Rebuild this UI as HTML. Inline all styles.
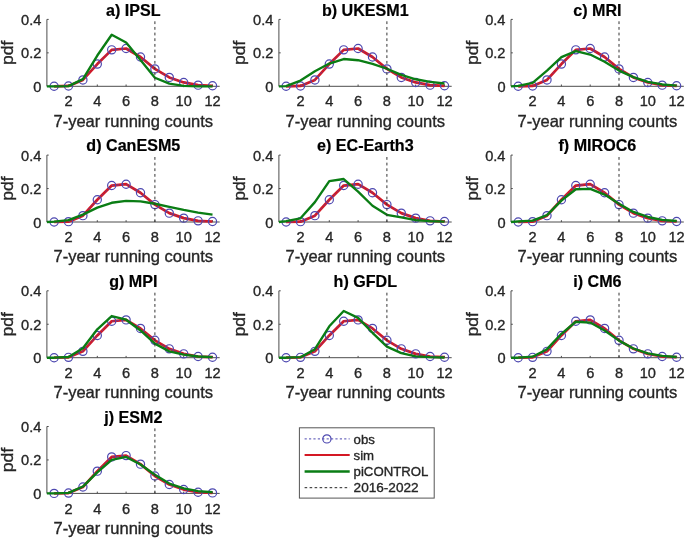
<!DOCTYPE html>
<html><head><meta charset="utf-8"><style>
html,body{margin:0;padding:0;background:#fff;}
svg{display:block;filter:blur(0.4px);}
text{font-family:"Liberation Sans",sans-serif;fill:#262626;stroke:#262626;stroke-width:0.35px;}
.t{font-size:14.6px;}
.l{font-size:16.5px;}
.h{font-size:16.1px;font-weight:bold;fill:#000;stroke:#000;stroke-width:0.2px;}
.g{font-size:13.2px;}
</style></head><body>
<svg width="685" height="541" viewBox="0 0 685 541">
<rect width="685" height="541" fill="#fff"/>
<g><path d="M46.90 19.40V86.30H219.70" fill="none" stroke="#4d4d4d" stroke-width="1"/><path d="M46.90 52.85h1.8M46.90 19.40h1.8M68.50 86.30v-1.8M97.30 86.30v-1.8M126.10 86.30v-1.8M154.90 86.30v-1.8M183.70 86.30v-1.8M212.50 86.30v-1.8" stroke="#4d4d4d" stroke-width="1"/><polyline points="54.10,86.30 68.50,85.97 82.90,79.94 97.30,64.06 111.70,49.84 126.10,48.50 140.50,57.03 154.90,68.91 169.30,77.44 183.70,82.45 198.10,85.13 212.50,85.80" fill="none" stroke="#d41824" stroke-width="2.7" stroke-linejoin="round"/><polyline points="54.10,86.30 68.50,85.97 82.90,79.94 97.30,64.06 111.70,49.84 126.10,48.50 140.50,57.03 154.90,68.91 169.30,77.44 183.70,82.45 198.10,85.13 212.50,85.80" fill="none" stroke="#4d48b0" stroke-width="0.9" stroke-dasharray="2.4 2.4" opacity="0.8"/><circle cx="54.10" cy="86.30" r="4.1" fill="none" stroke="#4d48b0" stroke-width="1.2"/><circle cx="68.50" cy="85.97" r="4.1" fill="none" stroke="#4d48b0" stroke-width="1.2"/><circle cx="82.90" cy="79.94" r="4.1" fill="none" stroke="#4d48b0" stroke-width="1.2"/><circle cx="97.30" cy="64.06" r="4.1" fill="none" stroke="#4d48b0" stroke-width="1.2"/><circle cx="111.70" cy="49.84" r="4.1" fill="none" stroke="#4d48b0" stroke-width="1.2"/><circle cx="126.10" cy="48.50" r="4.1" fill="none" stroke="#4d48b0" stroke-width="1.2"/><circle cx="140.50" cy="57.03" r="4.1" fill="none" stroke="#4d48b0" stroke-width="1.2"/><circle cx="154.90" cy="68.91" r="4.1" fill="none" stroke="#4d48b0" stroke-width="1.2"/><circle cx="169.30" cy="77.44" r="4.1" fill="none" stroke="#4d48b0" stroke-width="1.2"/><circle cx="183.70" cy="82.45" r="4.1" fill="none" stroke="#4d48b0" stroke-width="1.2"/><circle cx="198.10" cy="85.13" r="4.1" fill="none" stroke="#4d48b0" stroke-width="1.2"/><circle cx="212.50" cy="85.80" r="4.1" fill="none" stroke="#4d48b0" stroke-width="1.2"/><polyline points="46.90,86.30 54.10,86.30 68.50,86.13 82.90,79.11 97.30,55.53 111.70,34.79 126.10,42.48 140.50,60.04 154.90,77.77 169.30,83.62 183.70,85.80 198.10,86.30 212.50,86.30" fill="none" stroke="#0a7d14" stroke-width="2.35" stroke-linejoin="round"/><path d="M154.90 21.30V24.10M154.90 26.96V29.76M154.90 32.62V35.42M154.90 38.28V41.08M154.90 43.94V46.74M154.90 49.60V52.40M154.90 55.26V58.06M154.90 60.92V63.72M154.90 66.58V69.38M154.90 72.24V75.04M154.90 77.90V80.70M154.90 83.56V86.30" stroke="#333" stroke-width="1"/><text x="41.40" y="91.80" text-anchor="end" class="t">0</text><text x="41.40" y="58.35" text-anchor="end" class="t">0.2</text><text x="41.40" y="24.90" text-anchor="end" class="t">0.4</text><text x="68.50" y="106.40" text-anchor="middle" class="t">2</text><text x="97.30" y="106.40" text-anchor="middle" class="t">4</text><text x="126.10" y="106.40" text-anchor="middle" class="t">6</text><text x="154.90" y="106.40" text-anchor="middle" class="t">8</text><text x="183.70" y="106.40" text-anchor="middle" class="t">10</text><text x="212.50" y="106.40" text-anchor="middle" class="t">12</text><text x="133.30" y="126.60" text-anchor="middle" class="l">7-year running counts</text><text transform="translate(13.40 52.85) rotate(-90) scale(1.07 1)" text-anchor="middle" class="l">pdf</text><text x="133.30" y="15.50" text-anchor="middle" class="h">a) IPSL</text></g>
<g><path d="M278.90 19.40V86.30H451.70" fill="none" stroke="#4d4d4d" stroke-width="1"/><path d="M278.90 52.85h1.8M278.90 19.40h1.8M300.50 86.30v-1.8M329.30 86.30v-1.8M358.10 86.30v-1.8M386.90 86.30v-1.8M415.70 86.30v-1.8M444.50 86.30v-1.8" stroke="#4d4d4d" stroke-width="1"/><polyline points="286.10,86.30 300.50,85.97 314.90,79.94 329.30,64.06 343.70,49.84 358.10,48.50 372.50,57.03 386.90,68.91 401.30,77.44 415.70,82.45 430.10,85.13 444.50,85.80" fill="none" stroke="#d41824" stroke-width="2.7" stroke-linejoin="round"/><polyline points="286.10,86.30 300.50,85.97 314.90,79.94 329.30,64.06 343.70,49.84 358.10,48.50 372.50,57.03 386.90,68.91 401.30,77.44 415.70,82.45 430.10,85.13 444.50,85.80" fill="none" stroke="#4d48b0" stroke-width="0.9" stroke-dasharray="2.4 2.4" opacity="0.8"/><circle cx="286.10" cy="86.30" r="4.1" fill="none" stroke="#4d48b0" stroke-width="1.2"/><circle cx="300.50" cy="85.97" r="4.1" fill="none" stroke="#4d48b0" stroke-width="1.2"/><circle cx="314.90" cy="79.94" r="4.1" fill="none" stroke="#4d48b0" stroke-width="1.2"/><circle cx="329.30" cy="64.06" r="4.1" fill="none" stroke="#4d48b0" stroke-width="1.2"/><circle cx="343.70" cy="49.84" r="4.1" fill="none" stroke="#4d48b0" stroke-width="1.2"/><circle cx="358.10" cy="48.50" r="4.1" fill="none" stroke="#4d48b0" stroke-width="1.2"/><circle cx="372.50" cy="57.03" r="4.1" fill="none" stroke="#4d48b0" stroke-width="1.2"/><circle cx="386.90" cy="68.91" r="4.1" fill="none" stroke="#4d48b0" stroke-width="1.2"/><circle cx="401.30" cy="77.44" r="4.1" fill="none" stroke="#4d48b0" stroke-width="1.2"/><circle cx="415.70" cy="82.45" r="4.1" fill="none" stroke="#4d48b0" stroke-width="1.2"/><circle cx="430.10" cy="85.13" r="4.1" fill="none" stroke="#4d48b0" stroke-width="1.2"/><circle cx="444.50" cy="85.80" r="4.1" fill="none" stroke="#4d48b0" stroke-width="1.2"/><polyline points="278.90,86.30 286.10,86.13 300.50,80.61 314.90,71.25 329.30,63.55 343.70,59.04 358.10,60.21 372.50,63.89 386.90,68.74 401.30,74.93 415.70,79.28 430.10,81.95 444.50,83.46" fill="none" stroke="#0a7d14" stroke-width="2.35" stroke-linejoin="round"/><path d="M386.90 21.30V24.10M386.90 26.96V29.76M386.90 32.62V35.42M386.90 38.28V41.08M386.90 43.94V46.74M386.90 49.60V52.40M386.90 55.26V58.06M386.90 60.92V63.72M386.90 66.58V69.38M386.90 72.24V75.04M386.90 77.90V80.70M386.90 83.56V86.30" stroke="#333" stroke-width="1"/><text x="273.40" y="91.80" text-anchor="end" class="t">0</text><text x="273.40" y="58.35" text-anchor="end" class="t">0.2</text><text x="273.40" y="24.90" text-anchor="end" class="t">0.4</text><text x="300.50" y="106.40" text-anchor="middle" class="t">2</text><text x="329.30" y="106.40" text-anchor="middle" class="t">4</text><text x="358.10" y="106.40" text-anchor="middle" class="t">6</text><text x="386.90" y="106.40" text-anchor="middle" class="t">8</text><text x="415.70" y="106.40" text-anchor="middle" class="t">10</text><text x="444.50" y="106.40" text-anchor="middle" class="t">12</text><text x="365.30" y="126.60" text-anchor="middle" class="l">7-year running counts</text><text transform="translate(245.40 52.85) rotate(-90) scale(1.07 1)" text-anchor="middle" class="l">pdf</text><text x="365.30" y="15.50" text-anchor="middle" class="h">b) UKESM1</text></g>
<g><path d="M511.00 19.40V86.30H683.80" fill="none" stroke="#4d4d4d" stroke-width="1"/><path d="M511.00 52.85h1.8M511.00 19.40h1.8M532.60 86.30v-1.8M561.40 86.30v-1.8M590.20 86.30v-1.8M619.00 86.30v-1.8M647.80 86.30v-1.8M676.60 86.30v-1.8" stroke="#4d4d4d" stroke-width="1"/><polyline points="518.20,86.30 532.60,85.97 547.00,79.94 561.40,64.06 575.80,49.84 590.20,48.50 604.60,57.03 619.00,68.91 633.40,77.44 647.80,82.45 662.20,85.13 676.60,85.80" fill="none" stroke="#d41824" stroke-width="2.7" stroke-linejoin="round"/><polyline points="518.20,86.30 532.60,85.97 547.00,79.94 561.40,64.06 575.80,49.84 590.20,48.50 604.60,57.03 619.00,68.91 633.40,77.44 647.80,82.45 662.20,85.13 676.60,85.80" fill="none" stroke="#4d48b0" stroke-width="0.9" stroke-dasharray="2.4 2.4" opacity="0.8"/><circle cx="518.20" cy="86.30" r="4.1" fill="none" stroke="#4d48b0" stroke-width="1.2"/><circle cx="532.60" cy="85.97" r="4.1" fill="none" stroke="#4d48b0" stroke-width="1.2"/><circle cx="547.00" cy="79.94" r="4.1" fill="none" stroke="#4d48b0" stroke-width="1.2"/><circle cx="561.40" cy="64.06" r="4.1" fill="none" stroke="#4d48b0" stroke-width="1.2"/><circle cx="575.80" cy="49.84" r="4.1" fill="none" stroke="#4d48b0" stroke-width="1.2"/><circle cx="590.20" cy="48.50" r="4.1" fill="none" stroke="#4d48b0" stroke-width="1.2"/><circle cx="604.60" cy="57.03" r="4.1" fill="none" stroke="#4d48b0" stroke-width="1.2"/><circle cx="619.00" cy="68.91" r="4.1" fill="none" stroke="#4d48b0" stroke-width="1.2"/><circle cx="633.40" cy="77.44" r="4.1" fill="none" stroke="#4d48b0" stroke-width="1.2"/><circle cx="647.80" cy="82.45" r="4.1" fill="none" stroke="#4d48b0" stroke-width="1.2"/><circle cx="662.20" cy="85.13" r="4.1" fill="none" stroke="#4d48b0" stroke-width="1.2"/><circle cx="676.60" cy="85.80" r="4.1" fill="none" stroke="#4d48b0" stroke-width="1.2"/><polyline points="511.00,86.30 518.20,85.80 532.60,82.79 547.00,70.58 561.40,57.20 575.80,51.18 590.20,54.52 604.60,61.71 619.00,70.58 633.40,77.10 647.80,81.95 662.20,84.46 676.60,85.63" fill="none" stroke="#0a7d14" stroke-width="2.35" stroke-linejoin="round"/><path d="M619.00 21.30V24.10M619.00 26.96V29.76M619.00 32.62V35.42M619.00 38.28V41.08M619.00 43.94V46.74M619.00 49.60V52.40M619.00 55.26V58.06M619.00 60.92V63.72M619.00 66.58V69.38M619.00 72.24V75.04M619.00 77.90V80.70M619.00 83.56V86.30" stroke="#333" stroke-width="1"/><text x="505.50" y="91.80" text-anchor="end" class="t">0</text><text x="505.50" y="58.35" text-anchor="end" class="t">0.2</text><text x="505.50" y="24.90" text-anchor="end" class="t">0.4</text><text x="532.60" y="106.40" text-anchor="middle" class="t">2</text><text x="561.40" y="106.40" text-anchor="middle" class="t">4</text><text x="590.20" y="106.40" text-anchor="middle" class="t">6</text><text x="619.00" y="106.40" text-anchor="middle" class="t">8</text><text x="647.80" y="106.40" text-anchor="middle" class="t">10</text><text x="676.60" y="106.40" text-anchor="middle" class="t">12</text><text x="597.40" y="126.60" text-anchor="middle" class="l">7-year running counts</text><text transform="translate(477.50 52.85) rotate(-90) scale(1.07 1)" text-anchor="middle" class="l">pdf</text><text x="597.40" y="15.50" text-anchor="middle" class="h">c) MRI</text></g>
<g><path d="M46.90 155.10V222.00H219.70" fill="none" stroke="#4d4d4d" stroke-width="1"/><path d="M46.90 188.55h1.8M46.90 155.10h1.8M68.50 222.00v-1.8M97.30 222.00v-1.8M126.10 222.00v-1.8M154.90 222.00v-1.8M183.70 222.00v-1.8M212.50 222.00v-1.8" stroke="#4d4d4d" stroke-width="1"/><polyline points="54.10,222.00 68.50,221.67 82.90,215.64 97.30,199.76 111.70,185.54 126.10,184.20 140.50,192.73 154.90,204.61 169.30,213.14 183.70,218.15 198.10,220.83 212.50,221.50" fill="none" stroke="#d41824" stroke-width="2.7" stroke-linejoin="round"/><polyline points="54.10,222.00 68.50,221.67 82.90,215.64 97.30,199.76 111.70,185.54 126.10,184.20 140.50,192.73 154.90,204.61 169.30,213.14 183.70,218.15 198.10,220.83 212.50,221.50" fill="none" stroke="#4d48b0" stroke-width="0.9" stroke-dasharray="2.4 2.4" opacity="0.8"/><circle cx="54.10" cy="222.00" r="4.1" fill="none" stroke="#4d48b0" stroke-width="1.2"/><circle cx="68.50" cy="221.67" r="4.1" fill="none" stroke="#4d48b0" stroke-width="1.2"/><circle cx="82.90" cy="215.64" r="4.1" fill="none" stroke="#4d48b0" stroke-width="1.2"/><circle cx="97.30" cy="199.76" r="4.1" fill="none" stroke="#4d48b0" stroke-width="1.2"/><circle cx="111.70" cy="185.54" r="4.1" fill="none" stroke="#4d48b0" stroke-width="1.2"/><circle cx="126.10" cy="184.20" r="4.1" fill="none" stroke="#4d48b0" stroke-width="1.2"/><circle cx="140.50" cy="192.73" r="4.1" fill="none" stroke="#4d48b0" stroke-width="1.2"/><circle cx="154.90" cy="204.61" r="4.1" fill="none" stroke="#4d48b0" stroke-width="1.2"/><circle cx="169.30" cy="213.14" r="4.1" fill="none" stroke="#4d48b0" stroke-width="1.2"/><circle cx="183.70" cy="218.15" r="4.1" fill="none" stroke="#4d48b0" stroke-width="1.2"/><circle cx="198.10" cy="220.83" r="4.1" fill="none" stroke="#4d48b0" stroke-width="1.2"/><circle cx="212.50" cy="221.50" r="4.1" fill="none" stroke="#4d48b0" stroke-width="1.2"/><polyline points="46.90,222.00 54.10,221.67 68.50,220.16 82.90,214.64 97.30,207.62 111.70,202.77 126.10,200.93 140.50,201.43 154.90,203.77 169.30,206.95 183.70,209.96 198.10,212.63 212.50,214.64" fill="none" stroke="#0a7d14" stroke-width="2.35" stroke-linejoin="round"/><path d="M154.90 157.00V159.80M154.90 162.66V165.46M154.90 168.32V171.12M154.90 173.98V176.78M154.90 179.64V182.44M154.90 185.30V188.10M154.90 190.96V193.76M154.90 196.62V199.42M154.90 202.28V205.08M154.90 207.94V210.74M154.90 213.60V216.40M154.90 219.26V222.00" stroke="#333" stroke-width="1"/><text x="41.40" y="227.50" text-anchor="end" class="t">0</text><text x="41.40" y="194.05" text-anchor="end" class="t">0.2</text><text x="41.40" y="160.60" text-anchor="end" class="t">0.4</text><text x="68.50" y="242.10" text-anchor="middle" class="t">2</text><text x="97.30" y="242.10" text-anchor="middle" class="t">4</text><text x="126.10" y="242.10" text-anchor="middle" class="t">6</text><text x="154.90" y="242.10" text-anchor="middle" class="t">8</text><text x="183.70" y="242.10" text-anchor="middle" class="t">10</text><text x="212.50" y="242.10" text-anchor="middle" class="t">12</text><text x="133.30" y="262.30" text-anchor="middle" class="l">7-year running counts</text><text transform="translate(13.40 188.55) rotate(-90) scale(1.07 1)" text-anchor="middle" class="l">pdf</text><text x="133.30" y="151.20" text-anchor="middle" class="h">d) CanESM5</text></g>
<g><path d="M278.90 155.10V222.00H451.70" fill="none" stroke="#4d4d4d" stroke-width="1"/><path d="M278.90 188.55h1.8M278.90 155.10h1.8M300.50 222.00v-1.8M329.30 222.00v-1.8M358.10 222.00v-1.8M386.90 222.00v-1.8M415.70 222.00v-1.8M444.50 222.00v-1.8" stroke="#4d4d4d" stroke-width="1"/><polyline points="286.10,222.00 300.50,221.67 314.90,215.64 329.30,199.76 343.70,185.54 358.10,184.20 372.50,192.73 386.90,204.61 401.30,213.14 415.70,218.15 430.10,220.83 444.50,221.50" fill="none" stroke="#d41824" stroke-width="2.7" stroke-linejoin="round"/><polyline points="286.10,222.00 300.50,221.67 314.90,215.64 329.30,199.76 343.70,185.54 358.10,184.20 372.50,192.73 386.90,204.61 401.30,213.14 415.70,218.15 430.10,220.83 444.50,221.50" fill="none" stroke="#4d48b0" stroke-width="0.9" stroke-dasharray="2.4 2.4" opacity="0.8"/><circle cx="286.10" cy="222.00" r="4.1" fill="none" stroke="#4d48b0" stroke-width="1.2"/><circle cx="300.50" cy="221.67" r="4.1" fill="none" stroke="#4d48b0" stroke-width="1.2"/><circle cx="314.90" cy="215.64" r="4.1" fill="none" stroke="#4d48b0" stroke-width="1.2"/><circle cx="329.30" cy="199.76" r="4.1" fill="none" stroke="#4d48b0" stroke-width="1.2"/><circle cx="343.70" cy="185.54" r="4.1" fill="none" stroke="#4d48b0" stroke-width="1.2"/><circle cx="358.10" cy="184.20" r="4.1" fill="none" stroke="#4d48b0" stroke-width="1.2"/><circle cx="372.50" cy="192.73" r="4.1" fill="none" stroke="#4d48b0" stroke-width="1.2"/><circle cx="386.90" cy="204.61" r="4.1" fill="none" stroke="#4d48b0" stroke-width="1.2"/><circle cx="401.30" cy="213.14" r="4.1" fill="none" stroke="#4d48b0" stroke-width="1.2"/><circle cx="415.70" cy="218.15" r="4.1" fill="none" stroke="#4d48b0" stroke-width="1.2"/><circle cx="430.10" cy="220.83" r="4.1" fill="none" stroke="#4d48b0" stroke-width="1.2"/><circle cx="444.50" cy="221.50" r="4.1" fill="none" stroke="#4d48b0" stroke-width="1.2"/><polyline points="278.90,222.00 286.10,221.16 300.50,218.32 314.90,202.10 329.30,181.19 343.70,179.02 358.10,191.56 372.50,205.78 386.90,214.81 401.30,217.32 415.70,220.16 430.10,221.16 444.50,221.67" fill="none" stroke="#0a7d14" stroke-width="2.35" stroke-linejoin="round"/><path d="M386.90 157.00V159.80M386.90 162.66V165.46M386.90 168.32V171.12M386.90 173.98V176.78M386.90 179.64V182.44M386.90 185.30V188.10M386.90 190.96V193.76M386.90 196.62V199.42M386.90 202.28V205.08M386.90 207.94V210.74M386.90 213.60V216.40M386.90 219.26V222.00" stroke="#333" stroke-width="1"/><text x="273.40" y="227.50" text-anchor="end" class="t">0</text><text x="273.40" y="194.05" text-anchor="end" class="t">0.2</text><text x="273.40" y="160.60" text-anchor="end" class="t">0.4</text><text x="300.50" y="242.10" text-anchor="middle" class="t">2</text><text x="329.30" y="242.10" text-anchor="middle" class="t">4</text><text x="358.10" y="242.10" text-anchor="middle" class="t">6</text><text x="386.90" y="242.10" text-anchor="middle" class="t">8</text><text x="415.70" y="242.10" text-anchor="middle" class="t">10</text><text x="444.50" y="242.10" text-anchor="middle" class="t">12</text><text x="365.30" y="262.30" text-anchor="middle" class="l">7-year running counts</text><text transform="translate(245.40 188.55) rotate(-90) scale(1.07 1)" text-anchor="middle" class="l">pdf</text><text x="365.30" y="151.20" text-anchor="middle" class="h">e) EC-Earth3</text></g>
<g><path d="M511.00 155.10V222.00H683.80" fill="none" stroke="#4d4d4d" stroke-width="1"/><path d="M511.00 188.55h1.8M511.00 155.10h1.8M532.60 222.00v-1.8M561.40 222.00v-1.8M590.20 222.00v-1.8M619.00 222.00v-1.8M647.80 222.00v-1.8M676.60 222.00v-1.8" stroke="#4d4d4d" stroke-width="1"/><polyline points="518.20,222.00 532.60,221.67 547.00,215.64 561.40,199.76 575.80,185.54 590.20,184.20 604.60,192.73 619.00,204.61 633.40,213.14 647.80,218.15 662.20,220.83 676.60,221.50" fill="none" stroke="#d41824" stroke-width="2.7" stroke-linejoin="round"/><polyline points="518.20,222.00 532.60,221.67 547.00,215.64 561.40,199.76 575.80,185.54 590.20,184.20 604.60,192.73 619.00,204.61 633.40,213.14 647.80,218.15 662.20,220.83 676.60,221.50" fill="none" stroke="#4d48b0" stroke-width="0.9" stroke-dasharray="2.4 2.4" opacity="0.8"/><circle cx="518.20" cy="222.00" r="4.1" fill="none" stroke="#4d48b0" stroke-width="1.2"/><circle cx="532.60" cy="221.67" r="4.1" fill="none" stroke="#4d48b0" stroke-width="1.2"/><circle cx="547.00" cy="215.64" r="4.1" fill="none" stroke="#4d48b0" stroke-width="1.2"/><circle cx="561.40" cy="199.76" r="4.1" fill="none" stroke="#4d48b0" stroke-width="1.2"/><circle cx="575.80" cy="185.54" r="4.1" fill="none" stroke="#4d48b0" stroke-width="1.2"/><circle cx="590.20" cy="184.20" r="4.1" fill="none" stroke="#4d48b0" stroke-width="1.2"/><circle cx="604.60" cy="192.73" r="4.1" fill="none" stroke="#4d48b0" stroke-width="1.2"/><circle cx="619.00" cy="204.61" r="4.1" fill="none" stroke="#4d48b0" stroke-width="1.2"/><circle cx="633.40" cy="213.14" r="4.1" fill="none" stroke="#4d48b0" stroke-width="1.2"/><circle cx="647.80" cy="218.15" r="4.1" fill="none" stroke="#4d48b0" stroke-width="1.2"/><circle cx="662.20" cy="220.83" r="4.1" fill="none" stroke="#4d48b0" stroke-width="1.2"/><circle cx="676.60" cy="221.50" r="4.1" fill="none" stroke="#4d48b0" stroke-width="1.2"/><polyline points="511.00,222.00 518.20,221.33 532.60,220.66 547.00,215.14 561.40,200.59 575.80,189.22 590.20,188.88 604.60,194.57 619.00,203.77 633.40,211.97 647.80,216.98 662.20,219.83 676.60,221.00" fill="none" stroke="#0a7d14" stroke-width="2.35" stroke-linejoin="round"/><path d="M619.00 157.00V159.80M619.00 162.66V165.46M619.00 168.32V171.12M619.00 173.98V176.78M619.00 179.64V182.44M619.00 185.30V188.10M619.00 190.96V193.76M619.00 196.62V199.42M619.00 202.28V205.08M619.00 207.94V210.74M619.00 213.60V216.40M619.00 219.26V222.00" stroke="#333" stroke-width="1"/><text x="505.50" y="227.50" text-anchor="end" class="t">0</text><text x="505.50" y="194.05" text-anchor="end" class="t">0.2</text><text x="505.50" y="160.60" text-anchor="end" class="t">0.4</text><text x="532.60" y="242.10" text-anchor="middle" class="t">2</text><text x="561.40" y="242.10" text-anchor="middle" class="t">4</text><text x="590.20" y="242.10" text-anchor="middle" class="t">6</text><text x="619.00" y="242.10" text-anchor="middle" class="t">8</text><text x="647.80" y="242.10" text-anchor="middle" class="t">10</text><text x="676.60" y="242.10" text-anchor="middle" class="t">12</text><text x="597.40" y="262.30" text-anchor="middle" class="l">7-year running counts</text><text transform="translate(477.50 188.55) rotate(-90) scale(1.07 1)" text-anchor="middle" class="l">pdf</text><text x="597.40" y="151.20" text-anchor="middle" class="h">f) MIROC6</text></g>
<g><path d="M46.90 290.80V357.70H219.70" fill="none" stroke="#4d4d4d" stroke-width="1"/><path d="M46.90 324.25h1.8M46.90 290.80h1.8M68.50 357.70v-1.8M97.30 357.70v-1.8M126.10 357.70v-1.8M154.90 357.70v-1.8M183.70 357.70v-1.8M212.50 357.70v-1.8" stroke="#4d4d4d" stroke-width="1"/><polyline points="54.10,357.70 68.50,357.37 82.90,351.34 97.30,335.46 111.70,321.24 126.10,319.90 140.50,328.43 154.90,340.31 169.30,348.84 183.70,353.85 198.10,356.53 212.50,357.20" fill="none" stroke="#d41824" stroke-width="2.7" stroke-linejoin="round"/><polyline points="54.10,357.70 68.50,357.37 82.90,351.34 97.30,335.46 111.70,321.24 126.10,319.90 140.50,328.43 154.90,340.31 169.30,348.84 183.70,353.85 198.10,356.53 212.50,357.20" fill="none" stroke="#4d48b0" stroke-width="0.9" stroke-dasharray="2.4 2.4" opacity="0.8"/><circle cx="54.10" cy="357.70" r="4.1" fill="none" stroke="#4d48b0" stroke-width="1.2"/><circle cx="68.50" cy="357.37" r="4.1" fill="none" stroke="#4d48b0" stroke-width="1.2"/><circle cx="82.90" cy="351.34" r="4.1" fill="none" stroke="#4d48b0" stroke-width="1.2"/><circle cx="97.30" cy="335.46" r="4.1" fill="none" stroke="#4d48b0" stroke-width="1.2"/><circle cx="111.70" cy="321.24" r="4.1" fill="none" stroke="#4d48b0" stroke-width="1.2"/><circle cx="126.10" cy="319.90" r="4.1" fill="none" stroke="#4d48b0" stroke-width="1.2"/><circle cx="140.50" cy="328.43" r="4.1" fill="none" stroke="#4d48b0" stroke-width="1.2"/><circle cx="154.90" cy="340.31" r="4.1" fill="none" stroke="#4d48b0" stroke-width="1.2"/><circle cx="169.30" cy="348.84" r="4.1" fill="none" stroke="#4d48b0" stroke-width="1.2"/><circle cx="183.70" cy="353.85" r="4.1" fill="none" stroke="#4d48b0" stroke-width="1.2"/><circle cx="198.10" cy="356.53" r="4.1" fill="none" stroke="#4d48b0" stroke-width="1.2"/><circle cx="212.50" cy="357.20" r="4.1" fill="none" stroke="#4d48b0" stroke-width="1.2"/><polyline points="46.90,357.70 54.10,357.70 68.50,357.03 82.90,348.17 97.30,329.27 111.70,316.05 126.10,319.73 140.50,330.44 154.90,343.65 169.30,351.34 183.70,354.69 198.10,356.53 212.50,357.20" fill="none" stroke="#0a7d14" stroke-width="2.35" stroke-linejoin="round"/><path d="M154.90 292.70V295.50M154.90 298.36V301.16M154.90 304.02V306.82M154.90 309.68V312.48M154.90 315.34V318.14M154.90 321.00V323.80M154.90 326.66V329.46M154.90 332.32V335.12M154.90 337.98V340.78M154.90 343.64V346.44M154.90 349.30V352.10M154.90 354.96V357.70" stroke="#333" stroke-width="1"/><text x="41.40" y="363.20" text-anchor="end" class="t">0</text><text x="41.40" y="329.75" text-anchor="end" class="t">0.2</text><text x="41.40" y="296.30" text-anchor="end" class="t">0.4</text><text x="68.50" y="377.80" text-anchor="middle" class="t">2</text><text x="97.30" y="377.80" text-anchor="middle" class="t">4</text><text x="126.10" y="377.80" text-anchor="middle" class="t">6</text><text x="154.90" y="377.80" text-anchor="middle" class="t">8</text><text x="183.70" y="377.80" text-anchor="middle" class="t">10</text><text x="212.50" y="377.80" text-anchor="middle" class="t">12</text><text x="133.30" y="398.00" text-anchor="middle" class="l">7-year running counts</text><text transform="translate(13.40 324.25) rotate(-90) scale(1.07 1)" text-anchor="middle" class="l">pdf</text><text x="133.30" y="286.90" text-anchor="middle" class="h">g) MPI</text></g>
<g><path d="M278.90 290.80V357.70H451.70" fill="none" stroke="#4d4d4d" stroke-width="1"/><path d="M278.90 324.25h1.8M278.90 290.80h1.8M300.50 357.70v-1.8M329.30 357.70v-1.8M358.10 357.70v-1.8M386.90 357.70v-1.8M415.70 357.70v-1.8M444.50 357.70v-1.8" stroke="#4d4d4d" stroke-width="1"/><polyline points="286.10,357.70 300.50,357.37 314.90,351.34 329.30,335.46 343.70,321.24 358.10,319.90 372.50,328.43 386.90,340.31 401.30,348.84 415.70,353.85 430.10,356.53 444.50,357.20" fill="none" stroke="#d41824" stroke-width="2.7" stroke-linejoin="round"/><polyline points="286.10,357.70 300.50,357.37 314.90,351.34 329.30,335.46 343.70,321.24 358.10,319.90 372.50,328.43 386.90,340.31 401.30,348.84 415.70,353.85 430.10,356.53 444.50,357.20" fill="none" stroke="#4d48b0" stroke-width="0.9" stroke-dasharray="2.4 2.4" opacity="0.8"/><circle cx="286.10" cy="357.70" r="4.1" fill="none" stroke="#4d48b0" stroke-width="1.2"/><circle cx="300.50" cy="357.37" r="4.1" fill="none" stroke="#4d48b0" stroke-width="1.2"/><circle cx="314.90" cy="351.34" r="4.1" fill="none" stroke="#4d48b0" stroke-width="1.2"/><circle cx="329.30" cy="335.46" r="4.1" fill="none" stroke="#4d48b0" stroke-width="1.2"/><circle cx="343.70" cy="321.24" r="4.1" fill="none" stroke="#4d48b0" stroke-width="1.2"/><circle cx="358.10" cy="319.90" r="4.1" fill="none" stroke="#4d48b0" stroke-width="1.2"/><circle cx="372.50" cy="328.43" r="4.1" fill="none" stroke="#4d48b0" stroke-width="1.2"/><circle cx="386.90" cy="340.31" r="4.1" fill="none" stroke="#4d48b0" stroke-width="1.2"/><circle cx="401.30" cy="348.84" r="4.1" fill="none" stroke="#4d48b0" stroke-width="1.2"/><circle cx="415.70" cy="353.85" r="4.1" fill="none" stroke="#4d48b0" stroke-width="1.2"/><circle cx="430.10" cy="356.53" r="4.1" fill="none" stroke="#4d48b0" stroke-width="1.2"/><circle cx="444.50" cy="357.20" r="4.1" fill="none" stroke="#4d48b0" stroke-width="1.2"/><polyline points="278.90,357.70 286.10,357.70 300.50,357.20 314.90,349.17 329.30,326.26 343.70,311.04 358.10,317.89 372.50,332.78 386.90,346.66 401.30,353.18 415.70,356.36 430.10,357.20 444.50,357.53" fill="none" stroke="#0a7d14" stroke-width="2.35" stroke-linejoin="round"/><path d="M386.90 292.70V295.50M386.90 298.36V301.16M386.90 304.02V306.82M386.90 309.68V312.48M386.90 315.34V318.14M386.90 321.00V323.80M386.90 326.66V329.46M386.90 332.32V335.12M386.90 337.98V340.78M386.90 343.64V346.44M386.90 349.30V352.10M386.90 354.96V357.70" stroke="#333" stroke-width="1"/><text x="273.40" y="363.20" text-anchor="end" class="t">0</text><text x="273.40" y="329.75" text-anchor="end" class="t">0.2</text><text x="273.40" y="296.30" text-anchor="end" class="t">0.4</text><text x="300.50" y="377.80" text-anchor="middle" class="t">2</text><text x="329.30" y="377.80" text-anchor="middle" class="t">4</text><text x="358.10" y="377.80" text-anchor="middle" class="t">6</text><text x="386.90" y="377.80" text-anchor="middle" class="t">8</text><text x="415.70" y="377.80" text-anchor="middle" class="t">10</text><text x="444.50" y="377.80" text-anchor="middle" class="t">12</text><text x="365.30" y="398.00" text-anchor="middle" class="l">7-year running counts</text><text transform="translate(245.40 324.25) rotate(-90) scale(1.07 1)" text-anchor="middle" class="l">pdf</text><text x="365.30" y="286.90" text-anchor="middle" class="h">h) GFDL</text></g>
<g><path d="M511.00 290.80V357.70H683.80" fill="none" stroke="#4d4d4d" stroke-width="1"/><path d="M511.00 324.25h1.8M511.00 290.80h1.8M532.60 357.70v-1.8M561.40 357.70v-1.8M590.20 357.70v-1.8M619.00 357.70v-1.8M647.80 357.70v-1.8M676.60 357.70v-1.8" stroke="#4d4d4d" stroke-width="1"/><polyline points="518.20,357.70 532.60,357.37 547.00,351.34 561.40,335.46 575.80,321.24 590.20,319.90 604.60,328.43 619.00,340.31 633.40,348.84 647.80,353.85 662.20,356.53 676.60,357.20" fill="none" stroke="#d41824" stroke-width="2.7" stroke-linejoin="round"/><polyline points="518.20,357.70 532.60,357.37 547.00,351.34 561.40,335.46 575.80,321.24 590.20,319.90 604.60,328.43 619.00,340.31 633.40,348.84 647.80,353.85 662.20,356.53 676.60,357.20" fill="none" stroke="#4d48b0" stroke-width="0.9" stroke-dasharray="2.4 2.4" opacity="0.8"/><circle cx="518.20" cy="357.70" r="4.1" fill="none" stroke="#4d48b0" stroke-width="1.2"/><circle cx="532.60" cy="357.37" r="4.1" fill="none" stroke="#4d48b0" stroke-width="1.2"/><circle cx="547.00" cy="351.34" r="4.1" fill="none" stroke="#4d48b0" stroke-width="1.2"/><circle cx="561.40" cy="335.46" r="4.1" fill="none" stroke="#4d48b0" stroke-width="1.2"/><circle cx="575.80" cy="321.24" r="4.1" fill="none" stroke="#4d48b0" stroke-width="1.2"/><circle cx="590.20" cy="319.90" r="4.1" fill="none" stroke="#4d48b0" stroke-width="1.2"/><circle cx="604.60" cy="328.43" r="4.1" fill="none" stroke="#4d48b0" stroke-width="1.2"/><circle cx="619.00" cy="340.31" r="4.1" fill="none" stroke="#4d48b0" stroke-width="1.2"/><circle cx="633.40" cy="348.84" r="4.1" fill="none" stroke="#4d48b0" stroke-width="1.2"/><circle cx="647.80" cy="353.85" r="4.1" fill="none" stroke="#4d48b0" stroke-width="1.2"/><circle cx="662.20" cy="356.53" r="4.1" fill="none" stroke="#4d48b0" stroke-width="1.2"/><circle cx="676.60" cy="357.20" r="4.1" fill="none" stroke="#4d48b0" stroke-width="1.2"/><polyline points="511.00,357.70 518.20,357.70 532.60,356.70 547.00,349.17 561.40,333.78 575.80,321.74 590.20,322.58 604.60,330.44 619.00,340.64 633.40,348.50 647.80,353.35 662.20,355.86 676.60,357.03" fill="none" stroke="#0a7d14" stroke-width="2.35" stroke-linejoin="round"/><path d="M619.00 292.70V295.50M619.00 298.36V301.16M619.00 304.02V306.82M619.00 309.68V312.48M619.00 315.34V318.14M619.00 321.00V323.80M619.00 326.66V329.46M619.00 332.32V335.12M619.00 337.98V340.78M619.00 343.64V346.44M619.00 349.30V352.10M619.00 354.96V357.70" stroke="#333" stroke-width="1"/><text x="505.50" y="363.20" text-anchor="end" class="t">0</text><text x="505.50" y="329.75" text-anchor="end" class="t">0.2</text><text x="505.50" y="296.30" text-anchor="end" class="t">0.4</text><text x="532.60" y="377.80" text-anchor="middle" class="t">2</text><text x="561.40" y="377.80" text-anchor="middle" class="t">4</text><text x="590.20" y="377.80" text-anchor="middle" class="t">6</text><text x="619.00" y="377.80" text-anchor="middle" class="t">8</text><text x="647.80" y="377.80" text-anchor="middle" class="t">10</text><text x="676.60" y="377.80" text-anchor="middle" class="t">12</text><text x="597.40" y="398.00" text-anchor="middle" class="l">7-year running counts</text><text transform="translate(477.50 324.25) rotate(-90) scale(1.07 1)" text-anchor="middle" class="l">pdf</text><text x="597.40" y="286.90" text-anchor="middle" class="h">i) CM6</text></g>
<g><path d="M46.90 426.50V493.40H219.70" fill="none" stroke="#4d4d4d" stroke-width="1"/><path d="M46.90 459.95h1.8M46.90 426.50h1.8M68.50 493.40v-1.8M97.30 493.40v-1.8M126.10 493.40v-1.8M154.90 493.40v-1.8M183.70 493.40v-1.8M212.50 493.40v-1.8" stroke="#4d4d4d" stroke-width="1"/><polyline points="54.10,493.40 68.50,493.07 82.90,487.04 97.30,471.16 111.70,456.94 126.10,455.60 140.50,464.13 154.90,476.01 169.30,484.54 183.70,489.55 198.10,492.23 212.50,492.90" fill="none" stroke="#d41824" stroke-width="2.7" stroke-linejoin="round"/><polyline points="54.10,493.40 68.50,493.07 82.90,487.04 97.30,471.16 111.70,456.94 126.10,455.60 140.50,464.13 154.90,476.01 169.30,484.54 183.70,489.55 198.10,492.23 212.50,492.90" fill="none" stroke="#4d48b0" stroke-width="0.9" stroke-dasharray="2.4 2.4" opacity="0.8"/><circle cx="54.10" cy="493.40" r="4.1" fill="none" stroke="#4d48b0" stroke-width="1.2"/><circle cx="68.50" cy="493.07" r="4.1" fill="none" stroke="#4d48b0" stroke-width="1.2"/><circle cx="82.90" cy="487.04" r="4.1" fill="none" stroke="#4d48b0" stroke-width="1.2"/><circle cx="97.30" cy="471.16" r="4.1" fill="none" stroke="#4d48b0" stroke-width="1.2"/><circle cx="111.70" cy="456.94" r="4.1" fill="none" stroke="#4d48b0" stroke-width="1.2"/><circle cx="126.10" cy="455.60" r="4.1" fill="none" stroke="#4d48b0" stroke-width="1.2"/><circle cx="140.50" cy="464.13" r="4.1" fill="none" stroke="#4d48b0" stroke-width="1.2"/><circle cx="154.90" cy="476.01" r="4.1" fill="none" stroke="#4d48b0" stroke-width="1.2"/><circle cx="169.30" cy="484.54" r="4.1" fill="none" stroke="#4d48b0" stroke-width="1.2"/><circle cx="183.70" cy="489.55" r="4.1" fill="none" stroke="#4d48b0" stroke-width="1.2"/><circle cx="198.10" cy="492.23" r="4.1" fill="none" stroke="#4d48b0" stroke-width="1.2"/><circle cx="212.50" cy="492.90" r="4.1" fill="none" stroke="#4d48b0" stroke-width="1.2"/><polyline points="46.90,493.40 54.10,493.40 68.50,492.90 82.90,486.54 97.30,472.33 111.70,459.78 126.10,456.94 140.50,464.47 154.90,474.67 169.30,483.53 183.70,488.38 198.10,491.06 212.50,492.23" fill="none" stroke="#0a7d14" stroke-width="2.35" stroke-linejoin="round"/><path d="M154.90 428.40V431.20M154.90 434.06V436.86M154.90 439.72V442.52M154.90 445.38V448.18M154.90 451.04V453.84M154.90 456.70V459.50M154.90 462.36V465.16M154.90 468.02V470.82M154.90 473.68V476.48M154.90 479.34V482.14M154.90 485.00V487.80M154.90 490.66V493.40" stroke="#333" stroke-width="1"/><text x="41.40" y="498.90" text-anchor="end" class="t">0</text><text x="41.40" y="465.45" text-anchor="end" class="t">0.2</text><text x="41.40" y="432.00" text-anchor="end" class="t">0.4</text><text x="68.50" y="513.50" text-anchor="middle" class="t">2</text><text x="97.30" y="513.50" text-anchor="middle" class="t">4</text><text x="126.10" y="513.50" text-anchor="middle" class="t">6</text><text x="154.90" y="513.50" text-anchor="middle" class="t">8</text><text x="183.70" y="513.50" text-anchor="middle" class="t">10</text><text x="212.50" y="513.50" text-anchor="middle" class="t">12</text><text x="133.30" y="533.70" text-anchor="middle" class="l">7-year running counts</text><text transform="translate(13.40 459.95) rotate(-90) scale(1.07 1)" text-anchor="middle" class="l">pdf</text><text x="133.30" y="422.60" text-anchor="middle" class="h">j) ESM2</text></g>
<g><rect x="299.4" y="427.8" width="134.8" height="70.3" fill="#fff" stroke="#555" stroke-width="1"/><path d="M304.6 438.9H349.7" stroke="#4d48b0" stroke-width="1" stroke-dasharray="2.2 2.2"/><circle cx="326.9" cy="438.9" r="4.1" fill="none" stroke="#4d48b0" stroke-width="1.2"/><path d="M304.6 455.0H349.7" stroke="#d41824" stroke-width="2.2"/><path d="M304.6 471.5H349.7" stroke="#0a7d14" stroke-width="2.4"/><path d="M304.6 487.7H349.7" stroke="#222" stroke-width="1" stroke-dasharray="2.6 2.4"/><text x="353.6" y="443.5" class="g">obs</text><text x="353.6" y="459.6" class="g">sim</text><text x="353.6" y="476.1" class="g">piCONTROL</text><text x="353.6" y="492.3" class="g" style="font-size:13.6px">2016-2022</text></g>
</svg>
</body></html>
